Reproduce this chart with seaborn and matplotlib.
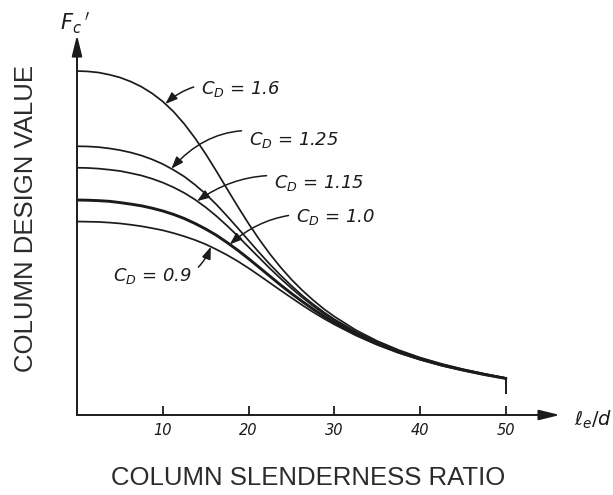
import numpy as np
import pandas as pd
import matplotlib
matplotlib.use("Agg")
import matplotlib.pyplot as plt
import seaborn as sns

# Column slenderness ratio le/d
le_d = [0, 1.25, 2.5, 3.75, 5, 6.25, 7.5, 8.75, 10, 11.25, 12.5, 13.75, 15,
        16.25, 17.5, 18.75, 20, 21.25, 22.5, 23.75, 25, 26.25, 27.5, 28.75, 30,
        32.5, 35, 37.5, 40, 42.5, 45, 47.5, 50]

# Column design value Fc' (relative to Fc* at C_D = 1.0) for each load duration factor
fc_cd_160 = [1.600, 1.598, 1.593, 1.583, 1.570, 1.551, 1.527, 1.496, 1.458, 1.411, 1.354,
             1.288, 1.214, 1.134, 1.051, 0.969, 0.890, 0.816, 0.748, 0.686, 0.630, 0.580,
             0.535, 0.494, 0.458, 0.395, 0.344, 0.302, 0.267, 0.238, 0.213, 0.192, 0.172]
fc_cd_125 = [1.250, 1.249, 1.246, 1.240, 1.232, 1.221, 1.207, 1.189, 1.167, 1.140, 1.109,
             1.071, 1.028, 0.979, 0.925, 0.869, 0.812, 0.755, 0.700, 0.649, 0.601, 0.556,
             0.516, 0.479, 0.445, 0.387, 0.338, 0.298, 0.264, 0.235, 0.211, 0.190, 0.171]
fc_cd_115 = [1.150, 1.149, 1.146, 1.141, 1.135, 1.125, 1.114, 1.099, 1.081, 1.059, 1.033,
             1.002, 0.966, 0.925, 0.880, 0.832, 0.781, 0.731, 0.681, 0.634, 0.589, 0.547,
             0.508, 0.472, 0.440, 0.383, 0.336, 0.296, 0.263, 0.234, 0.210, 0.190, 0.171]
fc_cd_100 = [1.000, 0.999, 0.997, 0.994, 0.988, 0.981, 0.973, 0.962, 0.949, 0.933, 0.914,
             0.891, 0.865, 0.836, 0.802, 0.766, 0.727, 0.686, 0.645, 0.604, 0.565, 0.528,
             0.493, 0.460, 0.430, 0.376, 0.331, 0.292, 0.260, 0.232, 0.209, 0.188, 0.170]
fc_cd_090 = [0.900, 0.899, 0.898, 0.895, 0.891, 0.885, 0.878, 0.869, 0.859, 0.846, 0.831,
             0.814, 0.794, 0.770, 0.744, 0.715, 0.683, 0.649, 0.614, 0.579, 0.545, 0.511,
             0.479, 0.449, 0.421, 0.370, 0.326, 0.289, 0.257, 0.230, 0.207, 0.187, 0.169]

cd_values = [1.6, 1.25, 1.15, 1.0, 0.9]
cd_labels = ["1.6", "1.25", "1.15", "1.0", "0.9"]
series = [fc_cd_160, fc_cd_125, fc_cd_115, fc_cd_100, fc_cd_090]

x_ticks = [10, 20, 30, 40, 50]
x_tick_labels = ["10", "20", "30", "40", "50"]

ink = "#1b1b1b"

df = pd.concat(
    [pd.DataFrame({"le_d": le_d, "fc": vals, "cd": cd}) for cd, vals in zip(cd_values, series)],
    ignore_index=True,
)

sns.set_theme(style="white")
plt.rcParams["font.family"] = ["Liberation Sans", "DejaVu Sans"]
plt.rcParams["mathtext.fontset"] = "dejavusans"

fig = plt.figure(figsize=(6.13, 4.95), dpi=100)
fig.patch.set_facecolor("white")
ax = fig.add_axes([77 / 613, 80 / 495, 483 / 613, 380 / 495])
ax.set_facecolor("white")

for cd in cd_values:
    lw = 2.1 if cd == 1.0 else 1.25
    sns.lineplot(data=df[df["cd"] == cd], x="le_d", y="fc", ax=ax,
                 color=ink, linewidth=lw, legend=False, estimator=None, sort=True)

# curves terminate at le/d = 50 with a short drop
ax.plot([le_d[-1], le_d[-1]], [fc_cd_100[-1], 0.10], color=ink, lw=1.4,
        solid_capstyle="butt")

ax.set_xlim(0, 483 / 8.58)
ax.set_ylim(0, 380 / 215)

for side in ["top", "right", "left", "bottom"]:
    ax.spines[side].set_visible(False)

# axes drawn as arrows
axis_arrow = dict(arrowstyle="-|>,head_length=0.9,head_width=0.22", color=ink, lw=1.4,
                  shrinkA=0, shrinkB=0, mutation_scale=14)
ax.annotate("", xy=(1.0, 0.0), xytext=(0.0, 0.0), xycoords="axes fraction",
            textcoords="axes fraction", arrowprops=axis_arrow)
ax.annotate("", xy=(0.0, 1.0), xytext=(0.0, 0.0), xycoords="axes fraction",
            textcoords="axes fraction", arrowprops=axis_arrow)

ax.set_xticks(x_ticks)
ax.set_xticklabels(x_tick_labels, fontstyle="italic", fontsize=10.5,
                   family=["DejaVu Sans"], color=ink)
ax.set_yticks([])
ax.tick_params(axis="x", direction="in", length=6.5, width=1.3, color=ink, pad=6,
               bottom=True)

ax.set_xlabel("COLUMN SLENDERNESS RATIO", fontsize=18.5, color="#2b2b2b")
ax.xaxis.set_label_coords(0.478, -0.166)
ax.xaxis.label.set_va("center")
ax.set_ylabel("COLUMN DESIGN VALUE", fontsize=18.5, color="#2b2b2b")
ax.yaxis.set_label_coords(-0.106, 0.518)
ax.yaxis.label.set_va("center")

# axis symbols
ax.text(-0.005, 0.997, r"$F_c\,'$", transform=ax.transAxes, fontsize=15,
        ha="center", va="bottom", color=ink)
ax.text(1.028, -0.012, r"$\ell_e/d$", transform=ax.transAxes, fontsize=14,
        ha="left", va="center", color=ink)

# C_D call-outs with leader arrows onto each curve
def px_to_data(px, py):
    return (px - 77) / 8.58, (415 - py) / 215

callouts = [
    # (series index, le/d on curve, text anchor px, ha, arc radius)
    (0, 10.3, (201, 89), "left", 0.30),
    (1, 11.0, (249, 140), "left", 0.35),
    (2, 14.0, (274, 183), "left", 0.25),
    (3, 17.8, (296, 217), "left", 0.25),
    (4, 15.6, (192, 276), "right", 0.45),
]
for idx, x_on, (tpx, tpy), ha, rad in callouts:
    y_on = float(np.interp(x_on, le_d, series[idx]))
    tx, ty = px_to_data(tpx, tpy)
    ax.annotate(r"$C_D$ = " + cd_labels[idx], xy=(x_on, y_on), xytext=(tx, ty),
                ha=ha, va="center", fontsize=13, fontstyle="italic", color=ink,
                family=["DejaVu Sans"],
                arrowprops=dict(arrowstyle="-|>,head_length=0.6,head_width=0.22",
                                connectionstyle=f"arc3,rad={rad}", color=ink, lw=1.1,
                                shrinkA=3, shrinkB=0, mutation_scale=12))

fig.savefig("out.png", dpi=100, facecolor="white")
